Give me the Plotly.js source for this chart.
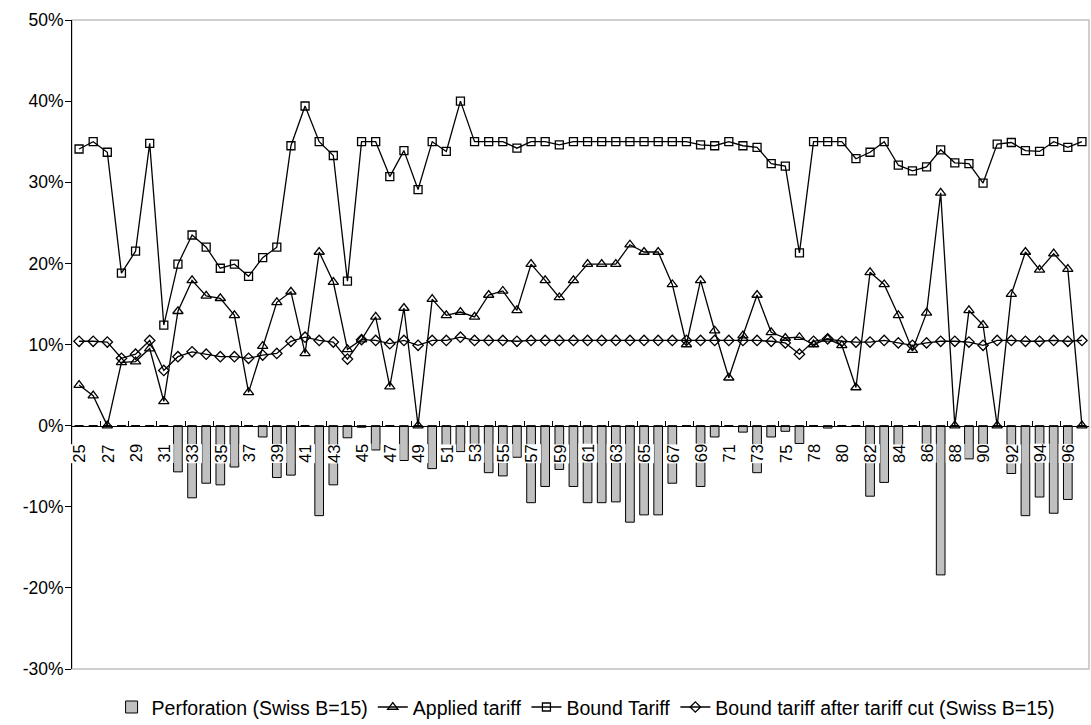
<!DOCTYPE html>
<html>
<head>
<meta charset="utf-8">
<script src="https://cdn.plot.ly/plotly-3.0.1.min.js"></script>
<style>html,body{margin:0;padding:0;background:#fff;}#chart{width:1091px;height:725px;}</style>
</head>
<body>
<div id="chart"></div>
<script>
// Chapters (HS chapters, 77 absent)
var categories = ['25','26','27','28','29','30','31','32','33','34','35','36','37','38','39','40','41','42','43','44',
  '45','46','47','48','49','50','51','52','53','54','55','56','57','58','59','60','61','62','63','64',
  '65','66','67','68','69','70','71','72','73','74','75','76','78','79','80','81','82','83','84','85',
  '86','87','88','89','90','91','92','93','94','95','96','97'];

var tickLabels = ['25','27','29','31','33','35','37','39','41','43','45','47','49','51','53','55','57','59','61','63',
  '65','67','69','71','73','75','78','80','82','84','86','88','90','92','94','96'];

var yTickVals = [-30,-20,-10,0,10,20,30,40,50];
var yTickText = ['-30%','-20%','-10%','0%','10%','20%','30%','40%','50%'];

// Values in percent
var perforation = [0,0,0,0,0,0,0,-5.7,-8.9,-7.1, -7.3,-5.1,0,-1.4,-6.4,-6.1,0,-11.1,-7.3,-1.5,
  -0.2,-3.0,0,-4.3,0,-5.3,-3.1,-3.2,-2.9,-5.8, -6.2,-3.9,-9.5,-7.5,-5.4,-7.5,-9.5,-9.5,-9.4,-11.9,
  -11.0,-11.0,-7.1,0,-7.5,-1.4,0,-0.8,-5.8,-1.4, -0.7,-2.2,0,-0.3,0,0,-8.7,-7.0,-3.4,0,
  -3.7,-18.4,0,-4.1,-2.5,0,-5.9,-11.1,-8.8,-10.8, -9.1,0];

var appliedTariff = [5.0,3.7,0,7.8,7.9,9.5,3.0,14.1,17.9,16.0, 15.7,13.6,4.1,9.8,15.2,16.5,8.9,21.4,17.7,9.4,
  10.6,13.4,4.8,14.5,0,15.6,13.6,14.0,13.4,16.1, 16.6,14.2,19.9,17.9,15.8,17.9,19.9,19.9,19.9,22.3,
  21.4,21.4,17.4,10.0,17.9,11.7,5.9,11.1,16.1,11.5, 10.8,10.9,10.0,10.7,9.9,4.7,18.9,17.4,13.6,9.3,
  13.9,28.7,0,14.2,12.4,0,16.2,21.4,19.2,21.2, 19.3,0];

var boundTariff = [34.1,35.0,33.7,18.8,21.5,34.8,12.4,19.9,23.5,22.0, 19.4,19.9,18.4,20.7,22.0,34.5,39.4,35.0,33.3,17.8,
  35.0,35.0,30.7,33.9,29.1,35.0,33.8,40.0,35.0,35.0, 35.0,34.2,35.0,35.0,34.6,35.0,35.0,35.0,35.0,35.0,
  35.0,35.0,35.0,35.0,34.6,34.5,35.0,34.5,34.3,32.3, 32.0,21.3,35.0,35.0,35.0,32.9,33.7,35.0,32.1,31.4,
  31.9,34.0,32.4,32.3,29.9,34.7,34.9,33.9,33.8,35.0, 34.3,35.0];

var boundAfterCut = [10.4,10.4,10.3,8.3,8.8,10.5,6.8,8.5,9.1,8.8, 8.5,8.5,8.3,8.7,8.9,10.4,10.9,10.5,10.3,8.2,
  10.6,10.5,10.1,10.5,9.9,10.5,10.5,10.9,10.5,10.5, 10.5,10.4,10.5,10.5,10.5,10.5,10.5,10.5,10.5,10.5,
  10.5,10.5,10.5,10.5,10.5,10.5,10.5,10.5,10.5,10.4, 10.2,8.8,10.4,10.7,10.4,10.3,10.3,10.5,10.2,9.9,
  10.2,10.4,10.4,10.3,9.9,10.5,10.5,10.4,10.4,10.5, 10.4,10.5];

var seriesNames = ['Perforation (Swiss B=15)','Applied tariff','Bound Tariff','Bound tariff after tariff cut (Swiss B=15)'];

var FONT = 'Liberation Sans, Arial, sans-serif';
var FS = 17.5;

var traces = [
  {type:'bar', name:seriesNames[0], x:categories, y:perforation,
   marker:{color:'#c0c0c0', line:{color:'#000', width:1}}},
  {type:'scatter', mode:'lines+markers', name:seriesNames[1], x:categories, y:appliedTariff,
   line:{color:'#000', width:1.3}, marker:{symbol:'triangle-up-open', size:9, color:'#000', line:{width:1.3}}},
  {type:'scatter', mode:'lines+markers', name:seriesNames[2], x:categories, y:boundTariff,
   line:{color:'#000', width:1.3}, marker:{symbol:'square-open', size:8, color:'#000', line:{width:1.3}}},
  {type:'scatter', mode:'lines+markers', name:seriesNames[3], x:categories, y:boundAfterCut,
   line:{color:'#000', width:1.3}, marker:{symbol:'diamond-open', size:8, color:'#000', line:{width:1.3}}}
];

var yMin = -30, yMax = 50;

// category labels drawn as rotated annotations with white background (placed by category index)
var annotations = tickLabels.map(function(t){
  return {x:categories.indexOf(t), y:0, xref:'x', yref:'y', text:t, textangle:-90, showarrow:false,
    xanchor:'center', yanchor:'top', yshift:-18, bgcolor:'#ffffff', borderpad:0,
    font:{family:FONT, size:16.5, color:'#000'}};
});

var layout = {
  width:1091, height:725,
  margin:{l:72, r:2, t:20, b:56, autoexpand:false},
  paper_bgcolor:'#fff', plot_bgcolor:'#fff',
  font:{family:FONT, size:FS, color:'#000'},
  showlegend:true,
  bargap:0.385,
  xaxis:{type:'category', categoryorder:'array', categoryarray:categories,
    range:[-0.5, categories.length-0.5],
    anchor:'free', position:(0-yMin)/(yMax-yMin),
    showline:true, linecolor:'#000', linewidth:1,
    ticks:'inside', tickson:'boundaries', ticklen:5, tickcolor:'#000', tickwidth:1,
    showticklabels:false, showgrid:false, zeroline:false, fixedrange:true},
  yaxis:{range:[yMin, yMax], tickmode:'array', tickvals:yTickVals, ticktext:yTickText,
    showline:true, linecolor:'#000', linewidth:1,
    ticks:'outside', ticklen:6, tickcolor:'#000', ticklabelstandoff:-2,
    showgrid:false, zeroline:false, tickfont:{family:FONT, size:FS, color:'#000'}},
  legend:{orientation:'h', x:0.505, xanchor:'center', y:-0.029, yanchor:'top',
    font:{family:FONT, size:19.5, color:'#000'}, traceorder:'normal', itemwidth:30},
  shapes:[{type:'rect', xref:'paper', yref:'paper', x0:0, x1:1, y0:0, y1:1,
    line:{color:'#c0c0c0', width:1.5}, layer:'below'}],
  annotations:annotations
};

Plotly.newPlot('chart', traces, layout, {staticPlot:true, displayModeBar:false});
</script>
</body>
</html>
